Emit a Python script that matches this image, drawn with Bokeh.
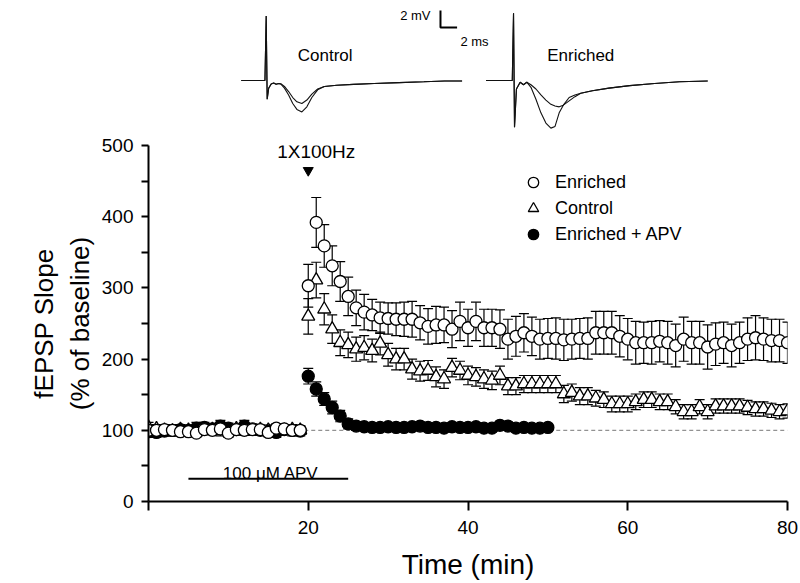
import math
from bokeh.plotting import figure
from bokeh.models import (Range1d, FixedTicker, Whisker, TeeHead, ColumnDataSource,
                          Label, Legend, LegendItem, Title)
from bokeh.layouts import column
from bokeh.embed import file_html
from bokeh.resources import INLINE

FONT = "Liberation Sans"

# ---------------- data: time course (min) ----------------
baseline_t = list(range(0, 20))
post_t = list(range(20, 81))
apv_post_t = list(range(20, 51))

enriched_base = [100, 100, 101, 100, 98, 98, 96, 101, 100, 102, 96, 101, 100, 101, 101, 97, 103, 102, 100, 100]
enriched_post = [303, 392, 359, 331, 309, 288, 272, 266, 262, 258,
                 257, 256, 256, 256, 251, 246, 248, 248, 242, 253,
                 244, 253, 244, 244, 242, 228, 232, 237, 232, 228,
                 229, 229, 227, 228, 229, 229, 237, 237, 237, 232,
                 228, 223, 223, 223, 225, 223, 219, 228, 223, 223,
                 217, 221, 223, 219, 223, 228, 230, 228, 226, 226,
                 223]
enriched_err_base = [6, 5, 5, 6, 5, 6, 5, 5, 6, 5, 6, 5, 5, 6, 5, 5, 6, 5, 5, 6]
enriched_err_post = [30, 35, 30, 28, 28, 27, 25, 25, 22, 22,
                     22, 23, 24, 25, 24, 25, 26, 25, 26, 27,
                     26, 27, 26, 26, 27, 28, 28, 27, 27, 28,
                     28, 29, 29, 28, 28, 29, 30, 30, 30, 29,
                     29, 30, 29, 30, 29, 30, 30, 31, 30, 30,
                     31, 30, 29, 30, 29, 30, 31, 30, 30, 30,
                     29]

control_base = [104, 102, 100, 99, 101, 100, 98, 100, 101, 99, 100, 102, 100, 99, 101, 100, 99, 100, 101, 100]
control_post = [260, 311, 270, 242, 223, 220, 214, 216, 212, 222,
                206, 200, 200, 186, 183, 184, 175, 172, 188, 184,
                177, 175, 172, 170, 177, 162, 162, 165, 165, 165,
                165, 165, 151, 153, 148, 148, 145, 143, 137, 137,
                137, 140, 143, 143, 140, 140, 133, 126, 126, 133,
                126, 134, 134, 134, 134, 132, 130, 130, 128, 126,
                127]
control_err_base = [7, 6, 6, 7, 6, 6, 7, 6, 6, 7, 6, 6, 7, 6, 6, 7, 6, 6, 7, 6]
control_err_post = [25, 25, 22, 20, 18, 18, 17, 17, 16, 16,
                    16, 15, 15, 14, 14, 14, 14, 13, 13, 13,
                    13, 13, 13, 13, 13, 12, 12, 12, 12, 12,
                    12, 12, 12, 12, 12, 12, 11, 11, 11, 11,
                    11, 11, 11, 11, 11, 11, 10, 10, 10, 10,
                    10, 10, 10, 10, 10, 10, 10, 10, 10, 10,
                    10]

apv_base = [98, 97, 99, 100, 101, 100, 103, 104, 102, 106, 103, 101, 106, 102, 100, 99, 97, 101, 100, 99]
apv_post = [176, 158, 144, 132, 120, 109, 106, 105, 104, 104,
            105, 104, 104, 105, 106, 104, 104, 103, 105, 104,
            104, 105, 103, 103, 107, 106, 103, 104, 103, 103,
            104]
apv_err_base = [8, 7, 7, 8, 7, 7, 8, 7, 7, 8, 7, 7, 8, 7, 7, 8, 7, 7, 8, 7]
apv_err_post = [11, 10, 9, 9, 8, 7, 6, 5, 5, 5, 5, 5, 5, 5, 5, 5, 5, 5, 5, 5,
                5, 5, 5, 5, 5, 5, 5, 5, 5, 5, 5]

y_ticks = [0, 100, 200, 300, 400, 500]
y_minor = [50, 150, 250, 350, 450]
x_ticks = [0, 20, 40, 60, 80]

series_names = ["Enriched", "Control", "Enriched + APV"]

# annotations (data units)
stim_time = 20
stim_label = "1X100Hz"
baseline_level = 100
dash_start, dash_end = 19.5, 80
apv_start, apv_end, apv_bar_level = 5, 25, 32
apv_label = "100 \u03bcM APV"

# ---------------- data: example traces (ms, mV) ----------------
ctl_t = [-3.0, -0.15, 0.0, 0.12, 0.3, 0.6, 0.9, 1.2, 1.5, 1.8, 2.2, 2.7, 3.2, 3.7, 4.3,
         4.9, 5.5, 6.2, 7.0, 8.5, 10.5, 13, 16, 19, 21.5, 23.6]
ctl_small = [0, 0, 7.6, -2.2, -0.9, -0.4, -0.3, -0.45, -0.35, -0.4, -0.7, -1.3, -2.0, -2.5, -2.7,
             -2.3, -1.6, -1.0, -0.7, -0.55, -0.45, -0.35, -0.25, -0.15, -0.05, -0.05]
ctl_large = [0, 0, 7.6, -2.2, -0.9, -0.4, -0.3, -0.45, -0.35, -0.45, -0.9, -1.7, -2.7, -3.4, -3.7,
             -3.1, -2.0, -1.1, -0.7, -0.55, -0.45, -0.35, -0.25, -0.15, -0.05, -0.05]
enr_t = [-3.3, -0.15, 0.0, 0.12, 0.35, 0.8, 1.2, 1.6, 2.1, 2.7, 3.3, 3.9, 4.5, 5.0, 5.5,
         6.0, 6.7, 7.4, 8.1, 9.5, 11.5, 14, 17, 20, 23.4]
enr_small = [0, 0, 7.9, -5.5, -1.0, -0.2, -0.5, -0.2, -0.5, -1.0, -1.7, -2.3, -2.8, -3.0, -3.1,
             -2.9, -2.4, -1.9, -1.5, -1.2, -0.9, -0.6, -0.35, -0.15, -0.05]
enr_large = [0, 0, 7.9, -5.5, -1.0, -0.2, -0.5, -0.2, -0.8, -2.2, -3.8, -5.0, -5.6, -5.4, -3.8,
             -2.9, -2.0, -1.7, -1.5, -1.2, -0.9, -0.6, -0.35, -0.15, -0.05]
enr_offset_ms = 29.8
scale_mv, scale_ms = 2, 2

W = 798
BL, BR = 148, 11

# ---------------- top panel: traces ----------------
top = figure(width=W, height=130, x_range=Range1d(-14.18, 62.81), y_range=Range1d(-5.88, 9.41),
             output_backend="svg", toolbar_location=None, min_border=0,
             min_border_left=BL, min_border_right=BR,
             x_axis_location=None, y_axis_location=None)
top.grid.visible = False
top.outline_line_color = None
for ys in (ctl_small, ctl_large):
    top.line(ctl_t, ys, line_color="#111111", line_width=1.1)
enr_t_shift = [t + enr_offset_ms for t in enr_t]
for ys in (enr_small, enr_large):
    top.line(enr_t_shift, ys, line_color="#111111", line_width=1.1)

sb_x, sb_y = 21.0, 6.24
top.line([sb_x, sb_x, sb_x + scale_ms], [sb_y + scale_mv, sb_y, sb_y], line_color="black", line_width=2)
top.add_layout(Label(x=sb_x - 1.2, y=sb_y + 1.4, text=f"{scale_mv} mV", text_align="right",
                     text_baseline="middle", text_font=FONT, text_font_size="13px", text_color="black"))
top.add_layout(Label(x=sb_x + 2.4, y=sb_y - 1.65, text=f"{scale_ms} ms", text_align="left",
                     text_baseline="middle", text_font=FONT, text_font_size="13px", text_color="black"))
top.add_layout(Label(x=7.1, y=2.94, text="Control", text_align="center", text_baseline="middle",
                     text_font=FONT, text_font_size="17px", text_color="black"))
top.add_layout(Label(x=enr_offset_ms + 8.1, y=2.94, text="Enriched", text_align="center",
                     text_baseline="middle", text_font=FONT, text_font_size="17px", text_color="black"))

# ---------------- main panel ----------------
p = figure(width=W, height=452, x_range=Range1d(0, 80), y_range=Range1d(0, 500),
           output_backend="svg", toolbar_location=None,
           min_border_left=BL, min_border_right=BR, min_border_top=15, min_border_bottom=79)
p.grid.visible = False
p.outline_line_color = None

for ax in (p.xaxis[0], p.yaxis[0]):
    ax.axis_line_width = 2
    ax.major_tick_line_width = 2
    ax.minor_tick_line_width = 2
    ax.major_tick_in = 0
    ax.minor_tick_in = 0
    ax.major_label_text_font = FONT
    ax.major_label_text_font_size = "19px"
    ax.major_label_text_color = "black"

p.yaxis.ticker = FixedTicker(ticks=y_ticks, minor_ticks=y_minor)
p.yaxis.major_tick_out = 7
p.yaxis.minor_tick_out = 7
p.yaxis.major_label_standoff = 8

p.xaxis.ticker = FixedTicker(ticks=x_ticks, minor_ticks=[])
p.xaxis.major_tick_out = 9
p.xaxis.major_label_standoff = 10
p.xaxis.major_label_overrides = {0: ""}
p.xaxis.axis_label = "Time (min)"
p.xaxis.axis_label_text_font = FONT
p.xaxis.axis_label_text_font_size = "28px"
p.xaxis.axis_label_text_font_style = "normal"
p.xaxis.axis_label_text_color = "black"
p.xaxis.axis_label_standoff = 12

# y-axis title as two rotated lines (side titles)
p.add_layout(Title(text="(% of baseline)", align="center", offset=41, standoff=8,
                   text_font=FONT, text_font_size="26px", text_font_style="normal",
                   text_color="black"), "left")
p.add_layout(Title(text="fEPSP Slope", align="center", offset=41, standoff=0,
                   text_font=FONT, text_font_size="26px", text_font_style="normal",
                   text_color="black"), "left")

# baseline dashed line
p.line([dash_start, dash_end], [baseline_level, baseline_level], line_color="#777777",
       line_width=1, line_dash="4 3")

# APV bar
p.line([apv_start, apv_end], [apv_bar_level, apv_bar_level], line_color="black", line_width=2)
p.add_layout(Label(x=(apv_start + apv_end) / 2 + 0.3, y=apv_bar_level + 7, text=apv_label,
                   text_align="center", text_baseline="alphabetic", text_font=FONT,
                   text_font_size="17px", text_color="black"))

# stimulus marker
p.scatter([stim_time], [465], marker="inverted_triangle", size=10, color="black")
p.add_layout(Label(x=stim_time + 1, y=492, text=stim_label, text_align="center",
                   text_baseline="middle", text_font=FONT, text_font_size="19px",
                   text_color="black"))


def add_series(t, y, err, marker, size, fill):
    src = ColumnDataSource(dict(t=t, y=y, up=[a + b for a, b in zip(y, err)],
                                lo=[a - b for a, b in zip(y, err)]))
    w = Whisker(source=src, base="t", upper="up", lower="lo", dimension="height",
                line_color="black", line_width=1.2,
                upper_head=TeeHead(size=10, line_width=1.2, line_color="black"),
                lower_head=TeeHead(size=10, line_width=1.2, line_color="black"))
    p.add_layout(w)
    return p.scatter("t", "y", source=src, marker=marker, size=size, fill_color=fill,
                     line_color="black", line_width=1.3)


r_ctl = add_series(baseline_t + post_t, control_base + control_post,
                   control_err_base + control_err_post, "triangle", 13, "white")
r_apv = add_series(baseline_t + apv_post_t, apv_base + apv_post,
                   apv_err_base + apv_err_post, "circle", 12, "black")
r_enr = add_series(baseline_t + post_t, enriched_base + enriched_post,
                   enriched_err_base + enriched_err_post, "circle", 12, "white")

legend = Legend(items=[LegendItem(label=series_names[0], renderers=[r_enr]),
                       LegendItem(label=series_names[1], renderers=[r_ctl]),
                       LegendItem(label=series_names[2], renderers=[r_apv])],
                location=(370, 254), border_line_color=None, background_fill_alpha=0,
                label_text_font=FONT, label_text_font_size="18px", label_text_color="black",
                glyph_width=30, glyph_height=26, padding=0, spacing=0, label_standoff=7,
                margin=0, label_height=26)
p.add_layout(legend)

layout = column(top, p)
open("out.html", "w").write(file_html(layout, INLINE))
